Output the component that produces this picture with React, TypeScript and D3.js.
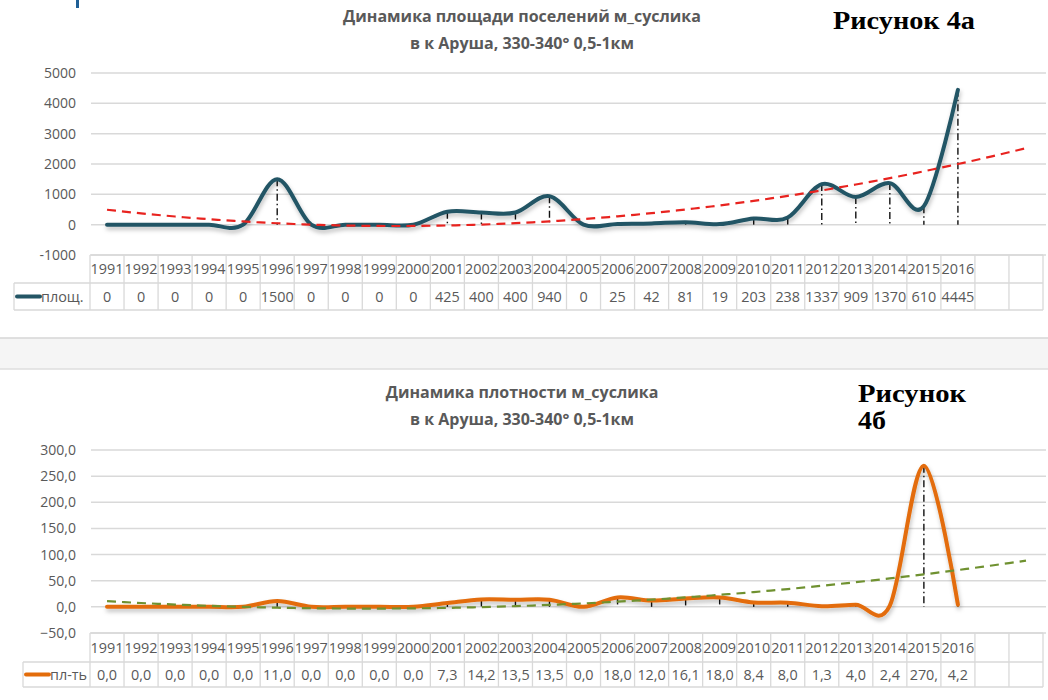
import React from "react";
import * as d3 from "d3";

// ---------- data ----------
const years = ["1991","1992","1993","1994","1995","1996","1997","1998","1999","2000","2001","2002","2003","2004","2005","2006","2007","2008","2009","2010","2011","2012","2013","2014","2015","2016"];
const areaValues = [0,0,0,0,0,1500,0,0,0,0,425,400,400,940,0,25,42,81,19,203,238,1337,909,1370,610,4445];
const areaLabels = ["0","0","0","0","0","1500","0","0","0","0","425","400","400","940","0","25","42","81","19","203","238","1337","909","1370","610","4445"];
const densityValues = [0,0,0,0,0,11,0,0,0,0,7.3,14.2,13.5,13.5,0,18,12,16.1,18,8.4,8,1.3,4,2.4,270,4.2];
const densityLabels = ["0,0","0,0","0,0","0,0","0,0","11,0","0,0","0,0","0,0","0,0","7,3","14,2","13,5","13,5","0,0","18,0","12,0","16,1","18,0","8,4","8,0","1,3","4,0","2,4","270,","4,2"];
const areaTicks = [5000,4000,3000,2000,1000,0,-1000];
const densityTicks = [300,250,200,150,100,50,0,-50];

const title1 = ["Динамика площади поселений м_суслика", "в к Аруша, 330-340° 0,5-1км"];
const title2 = ["Динамика плотности м_суслика", "в к Аруша, 330-340° 0,5-1км"];

const FORECAST = 2;
const SLOTS = years.length + FORECAST;

// least-squares quadratic fit (polynomial trendline, order 2)
function quadFit(ys: number[]) {
  const n = ys.length;
  const xs = ys.map((_, i) => i + 1);
  const S = (f: (x: number, y: number) => number) => d3.sum(xs, (x, i) => f(x, ys[i]));
  const s0 = n, s1 = S(x => x), s2 = S(x => x * x), s3 = S(x => x ** 3), s4 = S(x => x ** 4);
  const t0 = S((x, y) => y), t1 = S((x, y) => x * y), t2 = S((x, y) => x * x * y);
  const A = [[s0, s1, s2, t0], [s1, s2, s3, t1], [s2, s3, s4, t2]];
  for (let i = 0; i < 3; i++) {
    for (let k = i + 1; k < 3; k++) {
      const f = A[k][i] / A[i][i];
      for (let j = i; j < 4; j++) A[k][j] -= f * A[i][j];
    }
  }
  const c = [0, 0, 0];
  for (let i = 2; i >= 0; i--) {
    let s = A[i][3];
    for (let j = i + 1; j < 3; j++) s -= A[i][j] * c[j];
    c[i] = s / A[i][i];
  }
  return (x: number) => c[0] + c[1] * x + c[2] * x * x;
}

const GRID = "#d9d9d9";
const TXT = "#595959";
const FONT = "'Open Sans', 'Noto Sans', sans-serif";
const SERIF = "'Liberation Serif', 'DejaVu Serif', serif";

type ChartProps = {
  values: number[];
  labels: string[];
  ticks: number[];
  fmt: (v: number) => string;
  yTop: number;
  yBottom: number;
  tableTop: number;
  row1: number;
  row2: number;
  legendLeft: number;
  legendName: string;
  lineColor: string;
  trendColor: string;
  title: string[];
  titleY: number[];
  id: string;
};

function Chart(p: ChartProps) {
  const x = d3.scaleBand<number>().domain(d3.range(SLOTS)).range([90, 1043]);
  const cx = (i: number) => (x(i) as number) + x.bandwidth() / 2;
  const [ymax, ymin] = [p.ticks[0], p.ticks[p.ticks.length - 1]];
  const y = d3.scaleLinear().domain([ymin, ymax]).range([p.yBottom, p.yTop]);
  const line = d3.line<number>().x((_, i) => cx(i)).y(v => y(v)).curve(d3.curveCardinal.tension(0));
  const fit = quadFit(p.values);
  const xt = d3.scaleLinear().domain([1, years.length]).range([cx(0), cx(years.length - 1)]);
  const trendX = d3.range(1, years.length + FORECAST + 0.001, 0.25);
  const trend = d3.line<number>().x(t => xt(t)).y(t => y(fit(t)));
  const tableBottom = p.tableTop + p.row1 + p.row2;
  const midY = p.tableTop + p.row1;
  return (
    <g>
      <text x={522} y={p.titleY[0]} textAnchor="middle" fontFamily={FONT} fontWeight="bold" fontSize={16} fill={TXT}>{p.title[0]}</text>
      <text x={522} y={p.titleY[1]} textAnchor="middle" fontFamily={FONT} fontWeight="bold" fontSize={16} fill={TXT}>{p.title[1]}</text>
      {p.ticks.map(t => (
        <g key={t}>
          <line x1={91} x2={1046} y1={y(t)} y2={y(t)} stroke={GRID} strokeWidth={1.5} />
          <text x={76} y={y(t) + 5} textAnchor="end" fontFamily={FONT} fontSize={14} fill={TXT}>{p.fmt(t)}</text>
        </g>
      ))}
      {/* table */}
      <line x1={90} x2={1043} y1={p.tableTop} y2={p.tableTop} stroke={GRID} strokeWidth={1.3} />
      <line x1={p.legendLeft} x2={1043} y1={midY} y2={midY} stroke={GRID} strokeWidth={1.3} />
      <line x1={p.legendLeft} x2={1043} y1={tableBottom} y2={tableBottom} stroke={GRID} strokeWidth={1.3} />
      <line x1={p.legendLeft} x2={p.legendLeft} y1={midY} y2={tableBottom} stroke={GRID} strokeWidth={1.3} />
      {d3.range(SLOTS + 1).map(i => {
        const xx = i < SLOTS ? (x(i) as number) : 1043;
        return <line key={i} x1={xx} x2={xx} y1={p.tableTop} y2={tableBottom} stroke={GRID} strokeWidth={1.3} />;
      })}
      {years.map((yr, i) => (
        <text key={yr} x={cx(i)} y={p.tableTop + p.row1 / 2 + 5} textAnchor="middle" fontFamily={FONT} fontSize={14.4} fill={TXT}>{yr}</text>
      ))}
      {p.labels.map((l, i) => (
        <text key={i} x={cx(i)} y={midY + p.row2 / 2 + 5} textAnchor="middle" fontFamily={FONT} fontSize={14.4} fill={TXT}>{l}</text>
      ))}
      <line x1={p.legendLeft + 3} x2={p.legendLeft + 26} y1={midY + p.row2 / 2} y2={midY + p.row2 / 2} stroke={p.lineColor} strokeWidth={4} strokeLinecap="round" />
      <text x={p.legendLeft + 27} y={midY + p.row2 / 2 + 5} fontFamily={FONT} fontSize={14.4} fill={TXT}>{p.legendName}</text>
      {/* drop lines */}
      {p.values.map((v, i) => v > 0 ? (
        <line key={i} x1={cx(i)} x2={cx(i)} y1={y(v)} y2={y(0)} stroke="#111" strokeWidth={1.4} strokeDasharray="7,3,1.5,3" />
      ) : null)}
      {/* series */}
      <path d={line(p.values) || ""} fill="none" stroke={p.lineColor} strokeWidth={4} strokeLinecap="round" strokeLinejoin="round" filter={`url(#sh${p.id})`} />
      <path d={trend(trendX) || ""} fill="none" stroke={p.trendColor} strokeWidth={2.2} strokeDasharray="9,6" />
    </g>
  );
}

export default function App() {
  return (
    <svg width={1048} height={700} style={{ position: "absolute", left: 0, top: 0, background: "#fff" }}>
      <defs>
        <filter id="sha" x="-10%" y="-10%" width="120%" height="130%">
          <feDropShadow dx={1} dy={3} stdDeviation={2} floodColor="#000" floodOpacity={0.25} />
        </filter>
        <filter id="shb" x="-10%" y="-10%" width="120%" height="130%">
          <feDropShadow dx={1} dy={3} stdDeviation={2} floodColor="#000" floodOpacity={0.25} />
        </filter>
      </defs>
      <rect x={0} y={0} width={1048} height={700} fill="#fff" />
      <rect x={76} y={0} width={3} height={8} fill="#1f5f96" />
      <Chart
        id="a"
        values={areaValues}
        labels={areaLabels}
        ticks={areaTicks}
        fmt={v => String(v)}
        yTop={73}
        yBottom={255}
        tableTop={255}
        row1={28}
        row2={27}
        legendLeft={14}
        legendName="площ."
        lineColor="#235565"
        trendColor="#e8231f"
        title={title1}
        titleY={[22, 49]}
      />
      {/* separator band */}
      <rect x={0} y={338} width={1048} height={31} fill="#f5f5f5" />
      <line x1={0} x2={1048} y1={338} y2={338} stroke="#d6d6d6" strokeWidth={1.5} />
      <line x1={0} x2={1048} y1={369} y2={369} stroke="#dedede" strokeWidth={1.5} />
      <Chart
        id="b"
        values={densityValues}
        labels={densityLabels}
        ticks={densityTicks}
        fmt={v => d3.format(".1f")(v).replace(".", ",")}
        yTop={450}
        yBottom={633}
        tableTop={633}
        row1={29}
        row2={25}
        legendLeft={23}
        legendName="пл-ть"
        lineColor="#e36c0a"
        trendColor="#6f9130"
        title={title2}
        titleY={[398, 425]}
      />
      <text x={833} y={29} fontFamily={SERIF} fontWeight="bold" fontSize={26} fill="#000" textLength={142} lengthAdjust="spacingAndGlyphs">Рисунок 4а</text>
      <text x={858} y={402} fontFamily={SERIF} fontWeight="bold" fontSize={26} fill="#000" textLength={108} lengthAdjust="spacingAndGlyphs">Рисунок</text>
      <text x={858} y={429} fontFamily={SERIF} fontWeight="bold" fontSize={26} fill="#000" textLength={28} lengthAdjust="spacingAndGlyphs">4б</text>
    </svg>
  );
}
